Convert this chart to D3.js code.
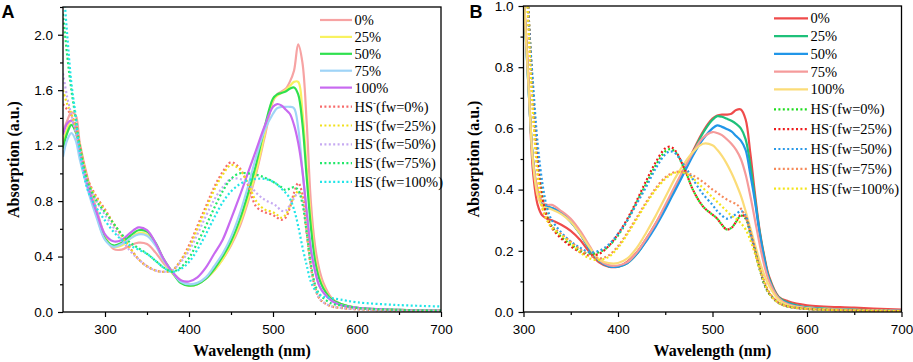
<!DOCTYPE html>
<html><head><meta charset="utf-8">
<script src="https://cdn.jsdelivr.net/npm/d3@7"></script>
<style>body{margin:0;background:#fff}</style>
</head><body>
<svg id="c" width="913" height="362"></svg>
<script>
// ---------- Panel A data ----------
const wlA = [250,255,260,265,270,280,290,300,310,320,330,340,350,360,370,380,390,400,410,420,430,440,450,460,470,480,490,500,505,510,515,520,525,530,535,540,545,550,555,560,570,580,600,650,700];
const seriesLabelsSolid = ["0%","25%","50%","75%","100%"];
const seriesLabelsHS = ["(fw=0%)","(fw=25%)","(fw=50%)","(fw=75%)","(fw=100%)"];
const aSolid0   = [1.30,1.38,1.44,1.42,1.22,0.95,0.74,0.55,0.455,0.45,0.48,0.50,0.49,0.43,0.35,0.29,0.23,0.20,0.205,0.24,0.30,0.38,0.48,0.61,0.79,1.00,1.26,1.52,1.57,1.59,1.61,1.66,1.74,1.93,1.80,1.38,0.80,0.48,0.31,0.21,0.10,0.06,0.03,0.012,0.008];
const aSolid25  = [1.22,1.32,1.38,1.34,1.20,0.92,0.72,0.54,0.47,0.48,0.53,0.57,0.56,0.49,0.37,0.28,0.22,0.19,0.20,0.24,0.30,0.38,0.49,0.63,0.81,1.02,1.28,1.53,1.56,1.58,1.60,1.63,1.66,1.66,1.45,1.05,0.68,0.40,0.26,0.18,0.09,0.06,0.03,0.015,0.01];
const aSolid50  = [1.18,1.29,1.35,1.30,1.16,0.90,0.70,0.53,0.48,0.50,0.55,0.59,0.58,0.50,0.38,0.29,0.21,0.19,0.20,0.24,0.31,0.40,0.51,0.66,0.85,1.07,1.33,1.54,1.57,1.58,1.59,1.61,1.62,1.57,1.36,0.98,0.62,0.37,0.24,0.17,0.09,0.06,0.03,0.015,0.01];
const aSolid75  = [1.12,1.24,1.29,1.24,1.10,0.87,0.68,0.52,0.47,0.49,0.53,0.56,0.55,0.48,0.37,0.29,0.22,0.20,0.21,0.25,0.33,0.42,0.54,0.70,0.90,1.12,1.31,1.43,1.47,1.48,1.48,1.48,1.47,1.33,1.02,0.74,0.48,0.30,0.19,0.14,0.08,0.05,0.03,0.015,0.01];
const aSolid100 = [1.28,1.36,1.38,1.32,1.17,0.90,0.72,0.56,0.51,0.52,0.57,0.61,0.59,0.50,0.38,0.29,0.23,0.22,0.25,0.32,0.42,0.52,0.67,0.83,1.00,1.17,1.34,1.48,1.50,1.49,1.46,1.43,1.35,1.22,1.02,0.72,0.45,0.30,0.19,0.14,0.08,0.05,0.03,0.015,0.01];
const aHS0   = [1.50,1.46,1.42,1.35,1.20,0.95,0.83,0.74,0.64,0.55,0.46,0.38,0.33,0.30,0.29,0.30,0.37,0.48,0.62,0.76,0.90,1.01,1.08,1.04,0.92,0.76,0.72,0.70,0.68,0.665,0.68,0.75,0.86,0.93,0.85,0.58,0.33,0.18,0.10,0.07,0.04,0.03,0.02,0.01,0.008];
const aHS25  = [1.60,1.50,1.43,1.33,1.18,0.94,0.82,0.73,0.64,0.55,0.46,0.38,0.33,0.30,0.29,0.30,0.37,0.46,0.60,0.74,0.88,0.99,1.06,1.03,0.93,0.80,0.74,0.72,0.70,0.68,0.70,0.76,0.83,0.87,0.82,0.58,0.33,0.18,0.10,0.07,0.04,0.03,0.02,0.01,0.008];
const aHS50  = [1.72,1.55,1.42,1.30,1.15,0.92,0.80,0.70,0.61,0.52,0.44,0.38,0.33,0.30,0.29,0.30,0.36,0.44,0.56,0.69,0.81,0.90,0.96,0.96,0.93,0.86,0.81,0.78,0.76,0.73,0.73,0.77,0.82,0.86,0.80,0.58,0.33,0.18,0.10,0.07,0.04,0.03,0.02,0.01,0.008];
const aHS75  = [2.15,1.85,1.60,1.40,1.20,0.93,0.80,0.72,0.64,0.56,0.50,0.46,0.42,0.37,0.32,0.29,0.32,0.39,0.50,0.62,0.75,0.87,0.96,1.00,1.00,0.99,0.97,0.94,0.92,0.90,0.88,0.89,0.90,0.88,0.78,0.58,0.35,0.20,0.13,0.10,0.06,0.05,0.03,0.015,0.01];
const aHS100 = [2.40,2.00,1.65,1.42,1.15,0.87,0.75,0.66,0.58,0.52,0.48,0.45,0.42,0.37,0.32,0.29,0.31,0.36,0.45,0.56,0.68,0.79,0.87,0.92,0.95,0.96,0.96,0.94,0.92,0.89,0.86,0.82,0.74,0.62,0.47,0.34,0.22,0.16,0.13,0.11,0.10,0.09,0.07,0.05,0.04];
const colorsA = ["#f7a3a3","#f8f260","#2fe04e","#9fd4f7","#c86af0","#f76b6b","#f1e01c","#c6aaf2","#22e86a","#22e5e8"];
const xTicksA = [300,400,500,600,700];
const yTicksA = [0.0,0.4,0.8,1.2,1.6,2.0];

// ---------- Panel B data ----------
const wlB = [300,305,310,315,320,325,330,340,350,360,370,380,390,400,410,420,430,440,450,455,460,470,480,490,500,505,510,515,520,525,530,535,540,545,550,555,560,570,580,600,650,700];
const bSolid0   = [1.05,0.78,0.46,0.35,0.315,0.305,0.30,0.285,0.265,0.235,0.195,0.162,0.148,0.148,0.165,0.195,0.24,0.29,0.345,0.375,0.405,0.465,0.53,0.59,0.632,0.642,0.645,0.645,0.648,0.66,0.662,0.63,0.52,0.385,0.265,0.18,0.115,0.05,0.035,0.022,0.014,0.008];
const bSolid25  = [1.05,0.75,0.50,0.39,0.355,0.345,0.34,0.325,0.295,0.255,0.205,0.168,0.15,0.148,0.16,0.19,0.235,0.285,0.34,0.37,0.40,0.46,0.525,0.585,0.628,0.64,0.638,0.632,0.625,0.615,0.60,0.565,0.48,0.37,0.26,0.175,0.11,0.048,0.03,0.015,0.008,0.004];
const bSolid50  = [1.05,0.75,0.50,0.39,0.355,0.345,0.34,0.325,0.295,0.255,0.205,0.168,0.15,0.148,0.16,0.19,0.232,0.28,0.335,0.365,0.395,0.455,0.515,0.565,0.60,0.61,0.605,0.598,0.59,0.575,0.56,0.53,0.45,0.36,0.255,0.17,0.105,0.045,0.028,0.014,0.007,0.004];
const bSolid75  = [1.05,0.76,0.50,0.40,0.36,0.35,0.35,0.33,0.305,0.265,0.215,0.17,0.153,0.152,0.163,0.195,0.24,0.29,0.35,0.38,0.41,0.47,0.525,0.57,0.588,0.585,0.578,0.565,0.55,0.53,0.50,0.45,0.38,0.30,0.22,0.15,0.10,0.045,0.025,0.013,0.007,0.004];
const bSolid100 = [1.05,0.76,0.49,0.38,0.345,0.34,0.335,0.32,0.295,0.255,0.21,0.172,0.16,0.16,0.175,0.21,0.26,0.315,0.375,0.405,0.435,0.485,0.525,0.55,0.545,0.53,0.51,0.485,0.455,0.42,0.38,0.33,0.275,0.22,0.165,0.12,0.085,0.04,0.022,0.012,0.006,0.003];
const bHS0   = [1.40,1.00,0.72,0.50,0.38,0.315,0.28,0.245,0.22,0.20,0.19,0.195,0.215,0.25,0.30,0.36,0.42,0.48,0.525,0.532,0.525,0.47,0.395,0.345,0.318,0.305,0.285,0.27,0.275,0.295,0.315,0.305,0.255,0.20,0.14,0.09,0.06,0.03,0.018,0.01,0.005,0.003];
const bHS25  = [1.40,1.00,0.72,0.50,0.37,0.31,0.275,0.24,0.215,0.195,0.185,0.19,0.215,0.255,0.305,0.365,0.43,0.49,0.535,0.54,0.53,0.47,0.395,0.345,0.318,0.305,0.285,0.27,0.275,0.295,0.317,0.31,0.26,0.20,0.14,0.09,0.06,0.03,0.018,0.01,0.005,0.003];
const bHS50  = [1.40,0.98,0.75,0.55,0.42,0.34,0.30,0.26,0.23,0.21,0.195,0.20,0.22,0.255,0.30,0.355,0.41,0.47,0.515,0.525,0.52,0.48,0.43,0.385,0.35,0.33,0.315,0.305,0.31,0.32,0.33,0.315,0.26,0.20,0.14,0.09,0.06,0.03,0.018,0.01,0.005,0.003];
const bHS75  = [1.30,0.95,0.65,0.45,0.34,0.30,0.28,0.255,0.23,0.205,0.185,0.175,0.185,0.215,0.26,0.31,0.36,0.405,0.44,0.45,0.457,0.458,0.445,0.425,0.40,0.39,0.378,0.368,0.36,0.353,0.338,0.31,0.26,0.20,0.145,0.10,0.065,0.03,0.018,0.01,0.005,0.003];
const bHS100 = [1.30,0.95,0.65,0.45,0.34,0.30,0.275,0.25,0.225,0.195,0.175,0.17,0.18,0.21,0.255,0.305,0.355,0.40,0.435,0.447,0.455,0.455,0.435,0.405,0.375,0.36,0.345,0.33,0.315,0.305,0.29,0.27,0.235,0.19,0.14,0.095,0.06,0.03,0.018,0.01,0.005,0.003];
const colorsB = ["#ef4b4b","#1ec07a","#2196e8","#f59b9b","#fbdc78","#1fdd1f","#ee1c1c","#2a9be8","#f68a5a","#f3e51a"];
const xTicksB = [300,400,500,600,700];
const yTicksB = [0.0,0.2,0.4,0.6,0.8,1.0];

const svg = d3.select("#c");

function panel(cfg) {
  const g = svg.append("g");
  const x = d3.scaleLinear().domain(cfg.xDomain).range([cfg.left, cfg.right]);
  const y = d3.scaleLinear().domain(cfg.yDomain).range([cfg.bottom, cfg.top]);
  const clipId = "clip" + cfg.name;
  svg.append("defs").append("clipPath").attr("id", clipId)
    .append("rect").attr("x", cfg.left).attr("y", cfg.top)
    .attr("width", cfg.right - cfg.left).attr("height", cfg.bottom - cfg.top);

  const line = d3.line().x(d => x(d[0])).y(d => y(d[1])).curve(d3.curveCatmullRom.alpha(0.5));
  const lines = g.append("g").attr("clip-path", `url(#${clipId})`);
  cfg.series.forEach((s, i) => {
    lines.append("path")
      .datum(cfg.wl.map((w, k) => [w, s[k]]))
      .attr("d", line)
      .attr("fill", "none")
      .attr("stroke", cfg.colors[i])
      .attr("stroke-width", 2.2)
      .attr("stroke-dasharray", i < 5 ? null : "2,2.4")
      .attr("stroke-linejoin", "round");
  });

  // axes
  const xAxis = d3.axisBottom(x).tickValues(cfg.xTicks).tickSize(5).tickFormat(d3.format("d"));
  const yAxis = d3.axisLeft(y).tickValues(cfg.yTicks).tickSize(5).tickFormat(d3.format(".1f"));
  const gx = g.append("g").attr("transform", `translate(0,${cfg.bottom})`).call(xAxis);
  const gy = g.append("g").attr("transform", `translate(${cfg.left},0)`).call(yAxis);
  const xMinor = d3.axisBottom(x).tickValues(cfg.xMinor).tickSize(3).tickFormat("");
  const yMinor = d3.axisLeft(y).tickValues(cfg.yMinor).tickSize(3).tickFormat("");
  g.append("g").attr("transform", `translate(0,${cfg.bottom})`).call(xMinor);
  g.append("g").attr("transform", `translate(${cfg.left},0)`).call(yMinor);
  g.selectAll(".domain").remove();
  g.selectAll(".tick line").attr("stroke", "#000").attr("stroke-width", 1.2);
  gx.selectAll("text").attr("font-family", "Liberation Sans, Arial, sans-serif").attr("font-size", 13.5).attr("fill", "#000").attr("dy", "1.05em");
  gy.selectAll("text").attr("font-family", "Liberation Sans, Arial, sans-serif").attr("font-size", 13.5).attr("fill", "#000").attr("dx", "-0.15em");

  // frame
  g.append("rect").attr("x", cfg.left).attr("y", cfg.top)
    .attr("width", cfg.right - cfg.left).attr("height", cfg.bottom - cfg.top)
    .attr("fill", "none").attr("stroke", "#000").attr("stroke-width", 1.3);

  // axis titles
  g.append("text").attr("x", (cfg.left + cfg.right) / 2).attr("y", 356)
    .attr("text-anchor", "middle").attr("font-family", "Liberation Serif, Times New Roman, serif")
    .attr("font-weight", "bold").attr("font-size", 16).text("Wavelength (nm)");
  g.append("text").attr("transform", `translate(${cfg.ytitleX},${(cfg.top + cfg.bottom) / 2}) rotate(-90)`)
    .attr("text-anchor", "middle").attr("font-family", "Liberation Serif, Times New Roman, serif")
    .attr("font-weight", "bold").attr("font-size", 16).text("Absorption (a.u.)");

  // panel letter
  g.append("text").attr("x", cfg.letterX).attr("y", 18)
    .attr("font-family", "Liberation Sans, Arial, sans-serif").attr("font-weight", "bold")
    .attr("font-size", 18).text(cfg.name);

  // legend
  const lg = g.append("g");
  cfg.series.forEach((s, i) => {
    const yy = i < 5 ? cfg.legY0 + i * cfg.legDy0 : cfg.legY1 + (i - 5) * cfg.legDy1;
    lg.append("line").attr("x1", cfg.legX).attr("x2", cfg.legX + cfg.legLen)
      .attr("y1", yy).attr("y2", yy).attr("stroke", cfg.colors[i]).attr("stroke-width", 2.2)
      .attr("stroke-dasharray", i < 5 ? null : "2,2.4");
    const t = lg.append("text").attr("x", cfg.legX + cfg.legLen + 2.5).attr("y", yy + 5)
      .attr("font-family", "Liberation Serif, Times New Roman, serif").attr("font-size", 14.5).attr("fill", "#000");
    if (i < 5) {
      t.text(seriesLabelsSolid[i]);
    } else {
      t.append("tspan").text("HS");
      t.append("tspan").attr("font-size", 9).attr("dy", -5.5).text("-");
      t.append("tspan").attr("dy", 5.5).text(seriesLabelsHS[i - 5]);
    }
  });
}

panel({
  name: "A", wl: wlA,
  series: [aSolid0, aSolid25, aSolid50, aSolid75, aSolid100, aHS0, aHS25, aHS50, aHS75, aHS100],
  colors: colorsA, xDomain: [250, 700], yDomain: [0, 2.2],
  left: 63, right: 441, top: 7, bottom: 312,
  xTicks: xTicksA, yTicks: yTicksA, xMinor: [350,450,550,650], yMinor: [0.2,0.6,1.0,1.4,1.8,2.2],
  ytitleX: 18.5, letterX: 1.5,
  legX: 320, legLen: 32, legY0: 20, legDy0: 16.9, legY1: 106.7, legDy1: 18.8
});
panel({
  name: "B", wl: wlB,
  series: [bSolid0, bSolid25, bSolid50, bSolid75, bSolid100, bHS0, bHS25, bHS50, bHS75, bHS100],
  colors: colorsB, xDomain: [300, 700], yDomain: [0, 1.0],
  left: 523.5, right: 901.5, top: 6, bottom: 312,
  xTicks: xTicksB, yTicks: yTicksB, xMinor: [350,450,550,650], yMinor: [0.1,0.3,0.5,0.7,0.9],
  ytitleX: 478.5, letterX: 469.5,
  legX: 774, legLen: 34, legY0: 18.3, legDy0: 17.75, legY1: 109.3, legDy1: 19.85
});
</script>
</body></html>
